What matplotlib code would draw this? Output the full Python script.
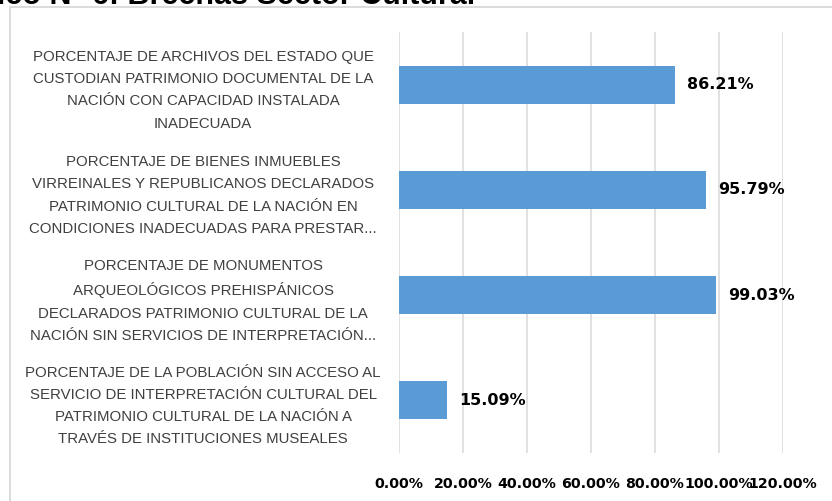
import matplotlib
matplotlib.use("Agg")
import matplotlib.pyplot as plt
from matplotlib.patches import Rectangle

# data
categories = [
    "PORCENTAJE DE ARCHIVOS DEL ESTADO QUE\nCUSTODIAN PATRIMONIO DOCUMENTAL DE LA\nNACIÓN CON CAPACIDAD INSTALADA\nINADECUADA",
    "PORCENTAJE DE BIENES INMUEBLES\nVIRREINALES Y REPUBLICANOS DECLARADOS\nPATRIMONIO CULTURAL DE LA NACIÓN EN\nCONDICIONES INADECUADAS PARA PRESTAR...",
    "PORCENTAJE DE MONUMENTOS\nARQUEOLÓGICOS PREHISPÁNICOS\nDECLARADOS PATRIMONIO CULTURAL DE LA\nNACIÓN SIN SERVICIOS DE INTERPRETACIÓN...",
    "PORCENTAJE DE LA POBLACIÓN SIN ACCESO AL\nSERVICIO DE INTERPRETACIÓN CULTURAL DEL\nPATRIMONIO CULTURAL DE LA NACIÓN A\nTRAVÉS DE INSTITUCIONES MUSEALES",
]
values = [86.21, 95.79, 99.03, 15.09]
xticks = [0, 20, 40, 60, 80, 100, 120]
title = "Gráfico N° 6: Brechas Sector Cultural"

W, H = 832, 501
fig = plt.figure(figsize=(W / 100, H / 100), dpi=100)

# outer frame (only top and left edges visible)
fig.patches.append(Rectangle((10 / W, -0.2), 1.2, 1.2 - 7 / H, transform=fig.transFigure,
                             fill=False, edgecolor="#d9d9d9", linewidth=1.3))

# title, cropped by the top edge like in the source image
fig.text(475 / W, 1 - 4 / H, title, ha="right", va="baseline", fontsize=22,
         fontweight="bold", family="Liberation Sans", color="black")

ax = fig.add_axes([399 / W, 1 - 453 / H, (783 - 399) / W, (453 - 32) / H])
ypos = list(range(len(categories)))
ax.barh(ypos, values, height=0.36, color="#5b9bd5", zorder=3)
ax.set_xlim(0, 120)
ax.set_ylim(len(categories) - 0.5, -0.5)

ax.set_xticks(xticks)
ax.set_xticklabels([f"{t:.2f}%" for t in xticks], fontsize=10.2, fontweight="bold",
                   family="DejaVu Sans", color="black")
ax.grid(axis="x", color="#d9d9d9", linewidth=1.1, zorder=0)
ax.tick_params(axis="x", length=0, pad=17)

ax.set_yticks(ypos)
ax.set_yticklabels(categories, fontsize=10.8, family="Liberation Sans", color="#404040",
                   ha="center", multialignment="center", linespacing=1.75)
ax.tick_params(axis="y", length=0, pad=141)

for s in ax.spines.values():
    s.set_visible(False)

for y, v in zip(ypos, values):
    ax.text(v + 3.8, y, f"{v:.2f}%", va="center", ha="left", fontsize=11.5,
            fontweight="bold", family="DejaVu Sans", color="black")

fig.savefig("out.png", dpi=100)
